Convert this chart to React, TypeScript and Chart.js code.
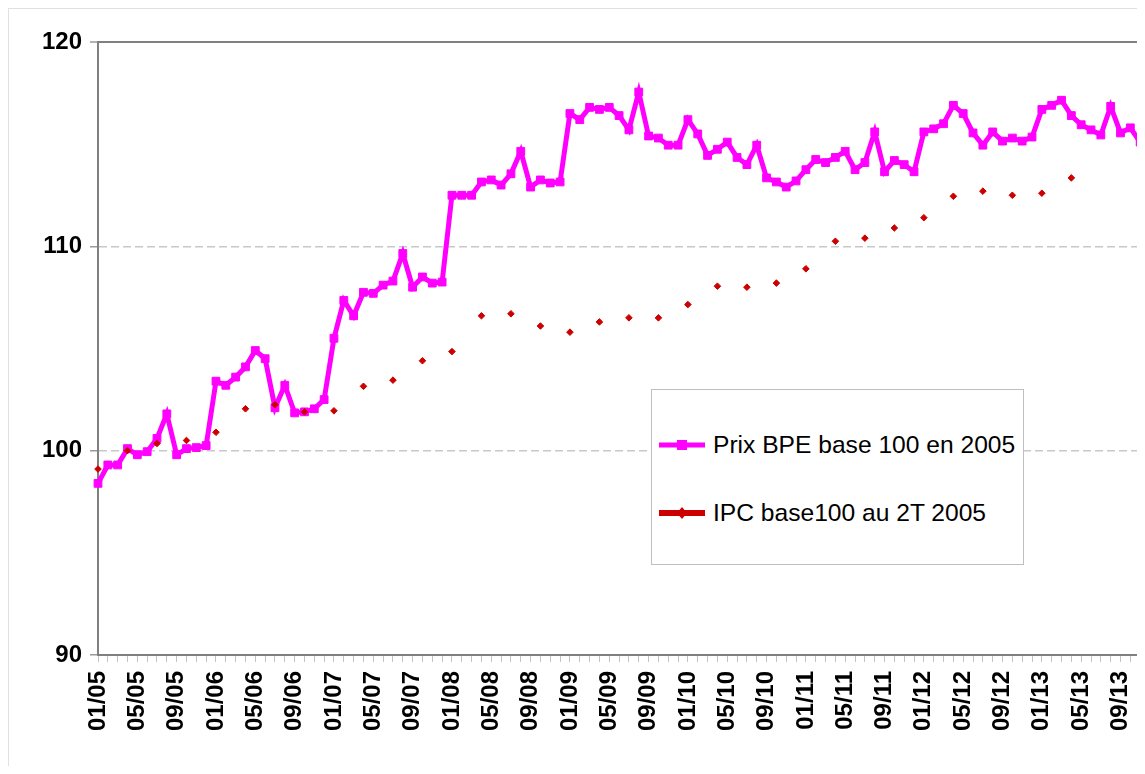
import React, { useEffect, useRef } from "react";
import { Chart, registerables } from "chart.js";

Chart.register(...registerables);

const FONT = '"Liberation Sans", Arial, sans-serif';

// Monthly categories 01/05 .. 12/13
const YEARS = ["05", "06", "07", "08", "09", "10", "11", "12", "13"];
const MONTHS = ["01", "02", "03", "04", "05", "06", "07", "08", "09", "10", "11", "12"];
const MONTH_LABELS: string[] = YEARS.flatMap((y) => MONTHS.map((m) => `${m}/${y}`));

const Y_TICKS = [90, 100, 110, 120];

const SERIES_NAMES = ["Prix BPE base 100 en 2005", "IPC base100 au 2T 2005"];

// Prix BPE base 100 en 2005 (monthly)
const PRIX_2005 = [98.4, 99.3, 99.3, 100.1, 99.8, 99.95, 100.6, 101.8, 99.8, 100.1, 100.15, 100.25];
const PRIX_2006 = [103.4, 103.2, 103.6, 104.1, 104.9, 104.5, 102.1, 103.2, 101.85, 101.9, 102.05, 102.5];
const PRIX_2007 = [105.5, 107.35, 106.6, 107.75, 107.7, 108.1, 108.3, 109.65, 108.0, 108.5, 108.2, 108.25];
const PRIX_2008 = [112.5, 112.5, 112.5, 113.15, 113.25, 113.0, 113.55, 114.65, 112.9, 113.25, 113.1, 113.15];
const PRIX_2009 = [116.5, 116.2, 116.8, 116.7, 116.8, 116.4, 115.7, 117.55, 115.4, 115.3, 114.95, 114.95];
const PRIX_2010 = [116.2, 115.5, 114.45, 114.75, 115.1, 114.35, 114.0, 114.95, 113.35, 113.15, 112.9, 113.2];
const PRIX_2011 = [113.75, 114.25, 114.1, 114.35, 114.65, 113.75, 114.1, 115.6, 113.65, 114.2, 114.0, 113.65];
const PRIX_2012 = [115.6, 115.75, 116.0, 116.9, 116.5, 115.55, 114.95, 115.6, 115.15, 115.3, 115.15, 115.35];
const PRIX_2013 = [116.7, 116.9, 117.15, 116.4, 115.95, 115.7, 115.45, 116.85, 115.55, 115.8, 115.1, 115.3];

const PRIX_BPE = [
  ...PRIX_2005, ...PRIX_2006, ...PRIX_2007, ...PRIX_2008, ...PRIX_2009,
  ...PRIX_2010, ...PRIX_2011, ...PRIX_2012, ...PRIX_2013,
];

// IPC base100 au 2T 2005 (quarterly: months 01, 04, 07, 10 from 01/05 to 04/13)
const IPC_QUARTERLY = [
  99.1, 100.0, 100.35, 100.5,
  100.9, 102.05, 102.25, 101.9,
  101.95, 103.15, 103.45, 104.4,
  104.85, 106.6, 106.7, 106.1,
  105.8, 106.3, 106.5, 106.5,
  107.15, 108.05, 108.0, 108.2,
  108.9, 110.25, 110.4, 110.9,
  111.4, 112.45, 112.7, 112.5,
  112.6, 113.35,
];

const IPC_MONTHLY: (number | null)[] = MONTH_LABELS.map((_, i) =>
  i % 3 === 0 && i / 3 < IPC_QUARTERLY.length ? IPC_QUARTERLY[i / 3] : null
);

const PINK = "#FF00FF";
const RED = "#CC0000";

export default function App() {
  const canvasRef = useRef<HTMLCanvasElement | null>(null);

  useEffect(() => {
    document.documentElement.style.overflow = "hidden";
    const canvas = canvasRef.current;
    if (!canvas) return;
    const tickFont = { family: FONT, size: 24, weight: "bold" as const };
    const chart = new Chart(canvas, {
      type: "line",
      data: {
        labels: MONTH_LABELS,
        datasets: [
          {
            label: SERIES_NAMES[0],
            data: PRIX_BPE,
            borderColor: PINK,
            backgroundColor: PINK,
            borderWidth: 5,
            pointStyle: "rect",
            pointRadius: 5.5,
            pointBorderWidth: 1,
            pointBackgroundColor: PINK,
            pointBorderColor: PINK,
            tension: 0,
            order: 1,
          },
          {
            label: SERIES_NAMES[1],
            data: IPC_MONTHLY,
            borderColor: RED,
            backgroundColor: RED,
            borderWidth: 5,
            spanGaps: false,
            pointStyle: "rectRot",
            pointRadius: 3.3,
            pointBorderWidth: 1,
            pointBackgroundColor: RED,
            pointBorderColor: RED,
            order: 0,
          },
        ],
      },
      options: {
        responsive: false,
        animation: false,
        events: [],
        layout: { padding: { left: 0, top: 33, right: 19, bottom: 0 } },
        plugins: {
          legend: { display: false },
          tooltip: { enabled: false },
        },
        scales: {
          x: {
            type: "category",
            offset: false,
            grid: {
              drawOnChartArea: false,
              drawTicks: true,
              tickLength: 7,
              tickColor: "#c4c4c4",
              tickWidth: 1,
            },
            border: { display: true, color: "#808080", width: 2 },
            ticks: {
              autoSkip: false,
              maxRotation: 90,
              minRotation: 90,
              padding: 9,
              color: "#000000",
              font: tickFont,
              callback: (_v: any, i: number) => (i % 4 === 0 ? MONTH_LABELS[i] : ""),
            },
            afterFit: (s: any) => {
              s.height = 111;
              s.paddingRight = 0;
              s.paddingLeft = 0;
            },
          },
          y: {
            min: 90,
            max: 120,
            afterBuildTicks: (s: any) => {
              s.ticks = Y_TICKS.map((v) => ({ value: v }));
            },
            grid: {
              color: (c: any) =>
                c.tick && c.tick.value === 120
                  ? "#808080"
                  : c.tick && c.tick.value === 90
                  ? "rgba(0,0,0,0)"
                  : "#c8c8c8",
              lineWidth: (c: any) => (c.tick && c.tick.value === 120 ? 2 : 1.5),
              tickLength: 8,
              tickColor: "#9a9a9a",
              tickWidth: 1.5,
            },
            border: {
              display: true,
              color: "#808080",
              width: 2,
              dash: (c: any) =>
                c.tick && (c.tick.value === 100 || c.tick.value === 110) ? [8, 4] : [],
            },
            ticks: {
              padding: 8,
              color: "#000000",
              font: tickFont,
              callback: (v: any) => String(v),
            },
            afterFit: (s: any) => {
              s.width = 89;
            },
          },
        },
      },
    });
    return () => {
      chart.destroy();
    };
  }, []);

  const textStyle: React.CSSProperties = {
    position: "absolute",
    left: 61,
    fontFamily: FONT,
    fontSize: 24.6,
    lineHeight: "28px",
    color: "#000",
    whiteSpace: "nowrap",
  };

  return (
    <div
      style={{
        position: "relative",
        width: 1136,
        height: 757,
        overflow: "hidden",
        borderTop: "1px solid #e0e0e0",
        borderLeft: "1px solid #e0e0e0",
      }}
    >
      <canvas
        ref={canvasRef}
        width={1160}
        height={757}
        style={{ display: "block", width: 1160, height: 757 }}
      />
      <div
        style={{
          position: "absolute",
          left: 642,
          top: 380,
          width: 371,
          height: 174,
          border: "1px solid #bfbfbf",
          background: "#ffffff",
        }}
      >
        <svg style={{ position: "absolute", left: 7, top: 45 }} width={46} height={20}>
          <line x1={0} y1={10} x2={46} y2={10} stroke={PINK} strokeWidth={5} />
          <rect x={18} y={5} width={10} height={10} fill={PINK} />
        </svg>
        <div style={{ ...textStyle, top: 41 }}>{SERIES_NAMES[0]}</div>
        <svg style={{ position: "absolute", left: 7, top: 113 }} width={46} height={20}>
          <line x1={0} y1={10} x2={46} y2={10} stroke={RED} strokeWidth={6} />
          <polygon points="23,4 28,10 23,16 18,10" fill={RED} />
        </svg>
        <div style={{ ...textStyle, top: 109 }}>{SERIES_NAMES[1]}</div>
      </div>
    </div>
  );
}
